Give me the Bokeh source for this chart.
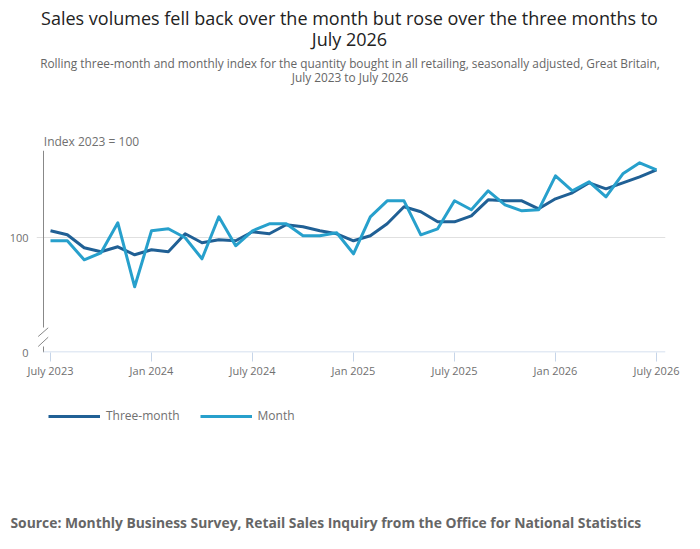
from bokeh.plotting import figure
from bokeh.layouts import column
from bokeh.models import Range1d, FixedTicker, Legend, LegendItem, ColumnDataSource, Label, Title
from bokeh.embed import file_html
from bokeh.resources import INLINE

title_lines = ["Sales volumes fell back over the month but rose over the three months to", "July 2026"]
subtitle_lines = ["Rolling three-month and monthly index for the quantity bought in all retailing, seasonally adjusted, Great Britain,",
                  "July 2023 to July 2026"]
y_label = "Index 2023 = 100"
source_text = "Source: Monthly Business Survey, Retail Sales Inquiry from the Office for National Statistics"

month_index = list(range(37))
x_tick_positions = [0, 6, 12, 18, 24, 30, 36]
x_tick_labels = ["July 2023", "Jan 2024", "July 2024", "Jan 2025", "July 2025", "Jan 2026", "July 2026"]

three_month = [100.7, 100.3, 99.0, 98.6, 99.1, 98.3, 98.8, 98.6, 100.4, 99.5, 99.8, 99.7,
               100.6, 100.4, 101.3, 101.1, 100.7, 100.4, 99.7, 100.2, 101.4, 103.1, 102.6, 101.6,
               101.6, 102.2, 103.8, 103.7, 103.7, 102.9, 103.9, 104.5, 105.5, 104.9, 105.5, 106.1, 106.8]
month = [99.7, 99.7, 97.8, 98.5, 101.5, 95.1, 100.7, 100.9, 100.0, 97.9, 102.1, 99.2,
         100.7, 101.4, 101.4, 100.2, 100.2, 100.5, 98.4, 102.1, 103.7, 103.7, 100.3, 100.9,
         103.7, 102.8, 104.7, 103.3, 102.7, 102.8, 106.2, 104.7, 105.6, 104.1, 106.4, 107.5, 106.8]
series_names = ["Three-month", "Month"]
series_colors = ["#206095", "#27a0cc"]

# broken axis: bottom of the axis is labelled 0, gridline at 100
y_start, y_end = 88.53, 108.73
y_ticks = [y_start, 100]
y_tick_labels = {y_start: "0", 100: "100"}

W = 700
HEAD_H, CHART_H = 150, 242
FOOT_H = 549 - HEAD_H - CHART_H
FL, FR, FB = 36, 35, 40
FOOT_FB = 39
frame_w = W - FL - FR
frame_h = CHART_H - FB
px_per_month = 606 / 36.0
x_start = -14 / px_per_month
x_end = x_start + frame_w / px_per_month
axis_x = -7 / px_per_month            # position of the vertical axis line
px_y = (y_end - y_start) / frame_h

TEXT_FONT = "Open Sans"

def blank(h, bottom=0):
    f = figure(width=W, height=h, output_backend="svg", toolbar_location=None, title=None,
               x_range=Range1d(FL, W - FR), y_range=Range1d(0, h - bottom),
               min_border_left=FL, min_border_right=FR, min_border_top=0, min_border_bottom=bottom,
               x_axis_type=None, y_axis_type=None)
    f.outline_line_color = None
    f.grid.visible = False
    f.border_fill_color = "white"
    return f

# ---- header ----
head = blank(HEAD_H)
def head_label(text, x, base, size, color, align="center", style="normal"):
    head.add_layout(Label(x=x, y=HEAD_H - base, text=text, text_font=TEXT_FONT, text_font_size=size,
                          text_color=color, text_align=align, text_baseline="alphabetic",
                          text_font_style=style))
head_label(title_lines[0], 349, 17, "18px", "#222222")
head_label(title_lines[1], 349, 38.5, "18px", "#222222")
head_label(subtitle_lines[0], 349.5, 62, "11.85px", "#666666")
head_label(subtitle_lines[1], 349.5, 76.5, "11.85px", "#666666")
head_label(y_label, 43.3, 141, "12px", "#707070", align="left")

# ---- chart ----
p = figure(width=W, height=CHART_H, output_backend="svg", toolbar_location=None, title=None,
           x_range=Range1d(x_start, x_end), y_range=Range1d(y_start, y_end),
           min_border_left=FL, min_border_right=FR, min_border_top=0, min_border_bottom=FB)
p.outline_line_color = None
p.border_fill_color = "white"

p.xgrid.visible = False
p.ygrid.ticker = FixedTicker(ticks=[100])
p.ygrid.grid_line_color = "#e0e0e0"
p.ygrid.grid_line_width = 1

# axis lines drawn by hand so that the break can be shown
def ypx(v):  # pixels above the frame bottom -> data
    return y_start + v * px_y
def xpx(v):  # pixels right of the axis line -> data
    return axis_x + v / px_per_month
p.segment(x0=[axis_x, axis_x], y0=[ypx(0), ypx(25)], x1=[axis_x, axis_x], y1=[ypx(6), y_end],
          line_color="#888888", line_width=1)
p.segment(x0=[xpx(-5.3), xpx(-5.3)], y0=[ypx(6), ypx(16)], x1=[xpx(4.7), xpx(4.7)], y1=[ypx(15.3), ypx(24.7)],
          line_color="#888888", line_width=1)
p.segment(x0=[axis_x], y0=[ypx(0.5)], x1=[x_end], y1=[ypx(0.5)], line_color="#c6d5e9", line_width=1)

src = ColumnDataSource(dict(x=month_index, three=three_month, month=month))
p.line("x", "three", source=src, line_color=series_colors[0], line_width=3, line_join="round")
p.line("x", "month", source=src, line_color=series_colors[1], line_width=3, line_join="round")

xa = p.xaxis[0]
xa.ticker = FixedTicker(ticks=x_tick_positions)
xa.major_label_overrides = {t: l for t, l in zip(x_tick_positions, x_tick_labels)}
xa.axis_line_color = None
xa.major_tick_line_color = "#c6d5e9"
xa.major_tick_out = 9
xa.major_tick_in = 0
xa.minor_tick_line_color = None
xa.major_label_text_font = TEXT_FONT
xa.major_label_text_font_size = "11px"
xa.major_label_text_color = "#707070"
xa.major_label_standoff = 1

ya = p.yaxis[0]
ya.ticker = FixedTicker(ticks=y_ticks)
ya.major_label_overrides = y_tick_labels
ya.axis_line_color = None
ya.major_tick_line_color = None
ya.major_tick_out = 0
ya.major_tick_in = 0
ya.minor_tick_line_color = None
ya.major_label_text_font = TEXT_FONT
ya.major_label_text_font_size = "11px"
ya.major_label_text_color = "#707070"
ya.major_label_standoff = 8

# ---- footer: legend + source ----
foot = blank(FOOT_H, FOOT_FB)
key_src = ColumnDataSource(dict(x=[float("nan")], y=[float("nan")]))
k1 = foot.line("x", "y", source=key_src, line_color=series_colors[0], line_width=3)
k2 = foot.line("x", "y", source=key_src, line_color=series_colors[1], line_width=3)
foot_frame_h = FOOT_H - FOOT_FB
legend = Legend(items=[LegendItem(label=series_names[0], renderers=[k1]),
                       LegendItem(label=series_names[1], renderers=[k2])],
                location=(48 - FL, foot_frame_h - 32), orientation="horizontal",
                glyph_width=52, glyph_height=16, label_height=16, label_standoff=6, spacing=20,
                padding=0, margin=0, border_line_color=None, background_fill_alpha=0,
                label_text_font=TEXT_FONT, label_text_font_size="12px", label_text_color="#707070")
foot.add_layout(legend)
foot.add_layout(Title(text=source_text, align="left", offset=10 - FL, standoff=0, text_font=TEXT_FONT,
                      text_font_size="13.85px", text_color="#666666", text_font_style="bold"), "below")

layout = column(head, p, foot, spacing=0)
open("out.html", "w").write(file_html(layout, INLINE))
